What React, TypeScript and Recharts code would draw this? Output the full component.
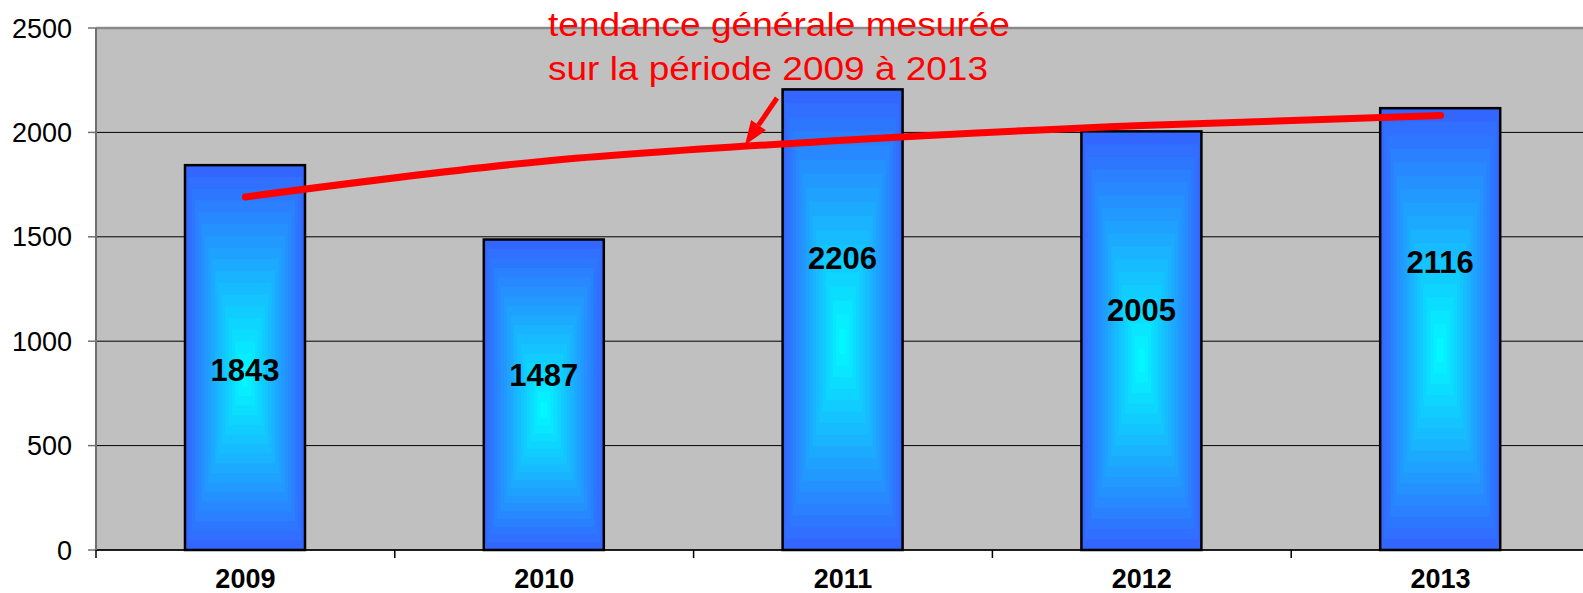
import { ComposedChart, Bar, Line, XAxis, YAxis, CartesianGrid, LabelList, ReferenceLine } from "recharts";

const years = ["2009", "2010", "2011", "2012", "2013"];
const counts = [1843, 1487, 2206, 2005, 2116];
// courbe de tendance
const trend = [1691, 1862, 1962, 2033, 2081];
// hauteur (en unités de l'axe) où sont posées les étiquettes de valeur
const labelLevels = [858, 836, 1395, 1146, 1376];
const yTicks = [0, 500, 1000, 1500, 2000, 2500];

const data = years.map((year, i) => ({
  year,
  count: counts[i],
  trend: trend[i],
}));

const FONT = "'Liberation Sans', Arial, sans-serif";
const EDGE = [51, 102, 255];
const CENTER = [0, 255, 255];

function mix(t: number) {
  const c = EDGE.map((e, k) => Math.round(e + (CENTER[k] - e) * t));
  return `rgb(${c[0]},${c[1]},${c[2]})`;
}

// dégradé "depuis le centre" façon Excel : rectangles concentriques
function GradientBar(props: any) {
  const { x, y, width, height } = props;
  if (!height || height <= 0) return null;
  const steps = 18;
  const cx = x + width / 2;
  const cy = y + height * 0.55;
  const rects = [];
  for (let i = 0; i < steps; i++) {
    const t = i / steps;
    const left = x + (cx - x) * t;
    const right = x + width - (x + width - cx) * t;
    const top = y + (cy - y) * t;
    const bottom = y + height - (y + height - cy) * t;
    rects.push(
      <rect
        key={i}
        x={left}
        y={top}
        width={right - left}
        height={bottom - top}
        fill={mix(t)}
      />
    );
  }
  return (
    <g>
      {rects}
      <rect x={x} y={y} width={width} height={height} fill="none" stroke="#000" strokeWidth={2.5} />
    </g>
  );
}

function ValueLabel(props: any) {
  const { x, y, width, height, value, index } = props;
  const py = y + height - (labelLevels[index] * height) / value;
  return (
    <text
      x={x + width / 2}
      y={py}
      textAnchor="middle"
      dominantBaseline="central"
      fontFamily={FONT}
      fontWeight="bold"
      fontSize={31}
      fill="#000"
    >
      {value}
    </text>
  );
}

const TICK_SIZE = 8;
const TICK_MARGIN = 11;

function YearTick(props: any) {
  const { x, y, payload, index, visibleTicksCount } = props;
  const off = payload.offset ?? 149;
  const axisY = y - TICK_SIZE - TICK_MARGIN;
  return (
    <g>
      <line x1={x - off} x2={x - off} y1={axisY} y2={axisY + TICK_SIZE} stroke="#000" strokeWidth={1.5} />
      {index === visibleTicksCount - 1 && (
        <line x1={x + off} x2={x + off} y1={axisY} y2={axisY + TICK_SIZE} stroke="#000" strokeWidth={1.5} />
      )}
      <text
        x={x}
        y={y}
        dy="0.71em"
        textAnchor="middle"
        fontFamily={FONT}
        fontWeight="bold"
        fontSize={27}
        fill="#000"
      >
        {payload.value}
      </text>
    </g>
  );
}

export default function App() {
  return (
    <div style={{ position: "relative", width: 1583, height: 593, overflow: "hidden", background: "#fff" }}>
      <style>{"body{margin:0}"}</style>
      <ComposedChart
        width={1590}
        height={593}
        data={data}
        margin={{ top: 28, right: 0, left: 0, bottom: 0 }}
      >
        <CartesianGrid vertical={false} stroke="#000" strokeWidth={1} fill="#C0C0C0" fillOpacity={1} />
        <XAxis
          dataKey="year"
          height={43}
          tickLine={false}
          tickSize={TICK_SIZE}
          tickMargin={TICK_MARGIN}
          axisLine={{ stroke: "#000", strokeWidth: 1.5 }}
          tick={<YearTick />}
          interval={0}
        />
        <YAxis
          width={96}
          domain={[0, 2500]}
          ticks={yTicks}
          tickSize={TICK_SIZE}
          tickMargin={16}
          axisLine={{ stroke: "#707070", strokeWidth: 2 }}
          tickLine={{ stroke: "#707070", strokeWidth: 1.5 }}
          tick={{ fontSize: 27, fill: "#000", fontFamily: FONT }}
        />
        <ReferenceLine y={2500} stroke="#8a8a8a" strokeWidth={2.5} />
        <Bar dataKey="count" barSize={120} shape={<GradientBar />} isAnimationActive={false}>
          <LabelList dataKey="count" content={<ValueLabel />} />
        </Bar>
        <Line
          type="monotone"
          dataKey="trend"
          stroke="#FF0000"
          strokeWidth={7}
          strokeLinecap="round"
          dot={false}
          activeDot={false}
          isAnimationActive={false}
        />
      </ComposedChart>
      <svg
        width={1583}
        height={593}
        style={{ position: "absolute", left: 0, top: 0, pointerEvents: "none" }}
      >
        <text x={548} y={36} fontFamily={FONT} fontSize={33} fill="#FF0000" textLength={462} lengthAdjust="spacingAndGlyphs">
          tendance générale mesurée
        </text>
        <text x={548} y={80} fontFamily={FONT} fontSize={33} fill="#FF0000" textLength={440} lengthAdjust="spacingAndGlyphs">
          sur la période 2009 à 2013
        </text>
        <line x1={777} y1={98} x2={758.5} y2={125.2} stroke="#FF0000" strokeWidth={5} />
        <polygon points="745,145 765.9,130.3 751.1,120.1" fill="#FF0000" />
      </svg>
    </div>
  );
}
